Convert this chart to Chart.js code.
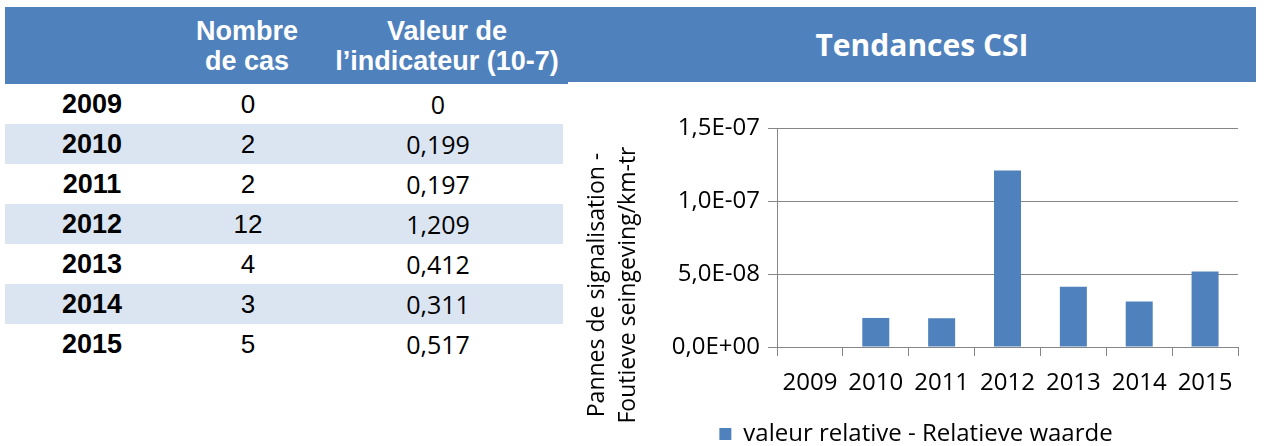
<!DOCTYPE html>
<html>
<head>
<meta charset="utf-8">
<script src="https://cdn.jsdelivr.net/npm/chart.js@4/dist/chart.umd.min.js"></script>
<style>
  body { margin: 0; width: 1266px; height: 446px; background: #fff; position: relative; overflow: hidden; }
  .band { position: absolute; top: 7px; background: #4F81BD; color: #fff; }
  .hd { position: absolute; font-family: "Liberation Sans", Arial, sans-serif; font-weight: bold; font-size: 27px; line-height: 30px; text-align: center; white-space: nowrap; }
  .row { position: absolute; left: 5px; width: 558px; height: 40px; }
  .row.alt { background: #DBE5F1; }
  .cell { position: absolute; top: 0; height: 40px; line-height: 40px; font-size: 26px; color: #000; transform: translateX(-50%); white-space: nowrap; }
  .yr { font-family: "Liberation Sans", Arial, sans-serif; font-weight: bold; font-size: 27px; }
  .nb { font-family: "Liberation Sans", Arial, sans-serif; }
  .val { font-family: "Open Sans", sans-serif; font-size: 25px; }
  #title { position: absolute; left: 20px; right: 0; top: 0; line-height: 76px; text-align: center; font-family: "Open Sans", sans-serif; font-weight: bold; font-size: 30px; }
  #wrap { position: absolute; left: 568px; top: 86px; width: 688px; height: 370px; }
</style>
</head>
<body>
<div class="band" style="left:5px;width:563px;height:77px;">
  <div class="hd" style="left:167px;width:150px;top:9px;">Nombre<br>de cas</div>
  <div class="hd" style="left:302px;width:280px;top:9px;">Valeur de<br>l’indicateur (10-7)</div>
</div>
<div class="band" style="left:568px;width:688px;height:75px;">
  <div id="title">Tendances CSI</div>
</div>
<div id="table"></div>
<div id="wrap"><canvas id="csiChart"></canvas></div>
<script>
const years = ['2009', '2010', '2011', '2012', '2013', '2014', '2015'];
const cases = [0, 2, 2, 12, 4, 3, 5];
const indicator = ['0', '0,199', '0,197', '1,209', '0,412', '0,311', '0,517'];
const yTicks = [0, 5e-8, 1e-7, 1.5e-7];
const yTitle = ['Pannes de signalisation -', 'Foutieve seingeving/km-tr'];

// tableau de gauche
const table = document.getElementById('table');
years.forEach((y, i) => {
    const row = document.createElement('div');
    row.className = 'row' + (i % 2 === 1 ? ' alt' : '');
    row.style.top = (84 + i * 40) + 'px';
    row.innerHTML =
        `<div class="cell yr" style="left:87px">${y}</div>` +
        `<div class="cell nb" style="left:243px">${cases[i]}</div>` +
        `<div class="cell val" style="left:433px">${indicator[i]}</div>`;
    table.appendChild(row);
});

// valeurs relatives (indicateur x 10-7)
const relValues = indicator.map(v => parseFloat(v.replace(',', '.')) * 1e-7);

function sciLabel(v) {
    if (v === 0) return '0,0E+00';
    const e = Math.floor(Math.log10(v) + 1e-9);
    const m = (v / Math.pow(10, e)).toFixed(1).replace('.', ',');
    const sign = e < 0 ? '-' : '+';
    return m + 'E' + sign + String(Math.abs(e)).padStart(2, '0');
}

const font = { family: '"Open Sans", sans-serif', size: 24, lineHeight: 1.25 };
const gridColor = '#868686';

// titre de l'axe Y, centré sur la hauteur du graphique comme dans Excel
const yTitlePlugin = {
    id: 'yTitle',
    afterDraw(chart) {
        const ctx = chart.ctx;
        ctx.save();
        ctx.translate(29, 199);
        ctx.rotate(-Math.PI / 2);
        ctx.font = '23px "Open Sans", sans-serif';
        ctx.fillStyle = '#000';
        ctx.textAlign = 'center';
        ctx.textBaseline = 'middle';
        yTitle.forEach((line, i) => ctx.fillText(line, 0, i * 31));
        ctx.restore();
    }
};

new Chart(document.getElementById('csiChart'), {
    type: 'bar',
    data: {
        labels: years,
        datasets: [{
            label: 'valeur relative - Relatieve waarde',
            data: relValues,
            backgroundColor: '#4F81BD',
            borderWidth: 0,
            categoryPercentage: 1,
            barPercentage: 0.41
        }]
    },
    plugins: [yTitlePlugin],
    options: {
        responsive: true,
        maintainAspectRatio: false,
        animation: false,
        layout: { padding: { left: 26, right: 18, top: 42, bottom: 0 } },
        plugins: {
            legend: {
                position: 'bottom',
                labels: {
                    font: { family: '"Open Sans", sans-serif', size: 24, lineHeight: 1.05 },
                    color: '#000',
                    boxWidth: 12,
                    boxHeight: 12,
                    padding: 0
                }
            },
            tooltip: { enabled: false }
        },
        scales: {
            x: {
                offset: true,
                grid: {
                    offset: true,
                    drawOnChartArea: false,
                    color: gridColor,
                    tickLength: 9
                },
                border: { color: gridColor },
                ticks: { font: font, color: '#000', padding: 12, maxRotation: 0 },
                afterFit: scale => { scale.height = 75; }
            },
            y: {
                min: 0,
                max: 1.5e-7,
                afterBuildTicks: axis => { axis.ticks = yTicks.map(v => ({ value: v })); },
                afterFit: scale => { scale.width = 183; },
                grid: { color: gridColor, tickLength: 9 },
                border: { color: gridColor },
                ticks: {
                    font: font,
                    color: '#000',
                    padding: 8,
                    callback: v => sciLabel(v)
                }
            }
        }
    }
});
</script>
</body>
</html>
